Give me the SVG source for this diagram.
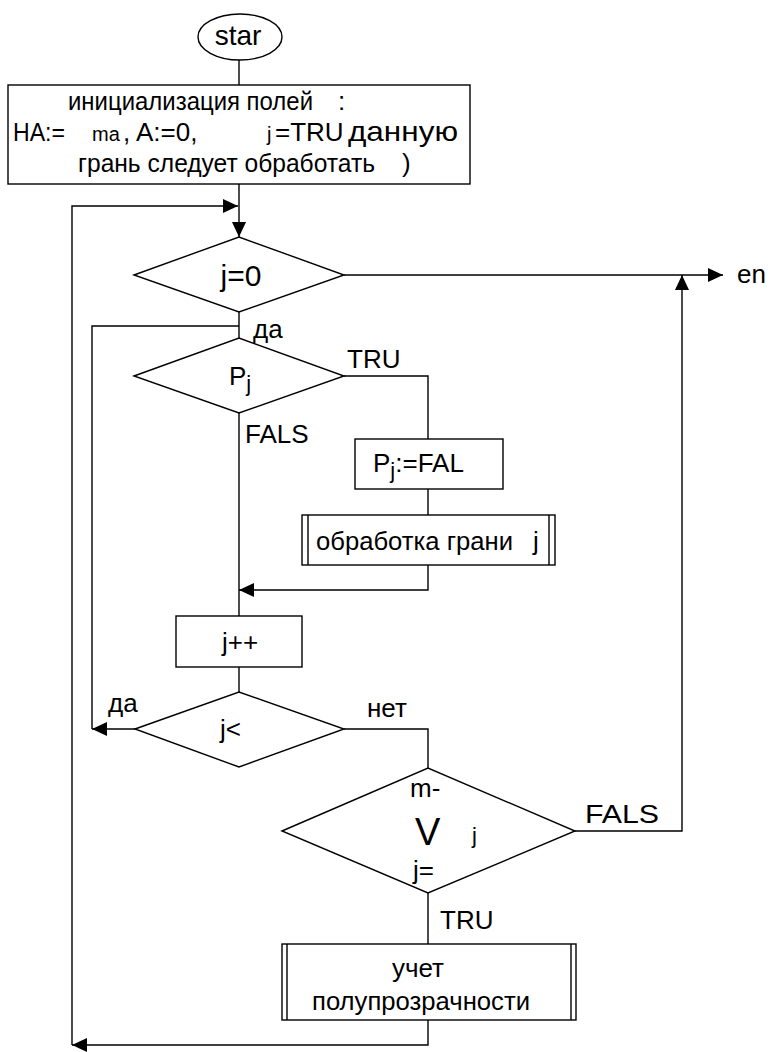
<svg xmlns="http://www.w3.org/2000/svg" width="770" height="1052" viewBox="0 0 770 1052">
<style>
.s{fill:#fff;stroke:#000;stroke-width:1.4}
.c{fill:none;stroke:#000;stroke-width:1.4}
text{font-family:"Liberation Sans",Arial,sans-serif;font-size:26px;fill:#000}
.sm{font-size:20px}
.sub{font-size:22px}
</style>
<defs>
<marker id="ah" markerUnits="userSpaceOnUse" markerWidth="16" markerHeight="16" refX="15" refY="7" orient="auto">
<path d="M0,0 L15,7 L0,14 z" fill="#000"/>
</marker>
</defs>
<rect width="770" height="1052" fill="#fff"/>
<g id="connectors">
<path class="c" d="M239,59 V85"/>
<path class="c" d="M239,184 V237" marker-end="url(#ah)"/>
<path class="c" d="M428,1020 V1045 H72" marker-end="url(#ah)"/>
<path class="c" d="M72,1045 V206 H238" marker-end="url(#ah)"/>
<path class="c" d="M344,275 H723" marker-end="url(#ah)"/>
<path class="c" d="M239,312 V338"/>
<path class="c" d="M92,729 V326 H239"/>
<path class="c" d="M344,376 H428 V439"/>
<path class="c" d="M428,489 V515"/>
<path class="c" d="M428,565 V590 H239" marker-end="url(#ah)"/>
<path class="c" d="M239,413 V616"/>
<path class="c" d="M239,667 V692"/>
<path class="c" d="M135,729 H92" marker-end="url(#ah)"/>
<path class="c" d="M344,729 H428 V768"/>
<path class="c" d="M575,831 H682 V275" marker-end="url(#ah)"/>
<path class="c" d="M428,893 V944"/>
<text x="253" y="338">да</text>
<text x="347" y="368">TRU</text>
<text x="245" y="443">FALS</text>
<text x="108" y="712">да</text>
<text x="367" y="717">нет</text>
<text x="585" y="823" textLength="74" lengthAdjust="spacingAndGlyphs">FALS</text>
<text x="440" y="929">TRU</text>
<text x="737" y="283">en</text>
</g>
<g id="start">
<ellipse class="s" cx="240" cy="37" rx="42" ry="23"/>
<text x="238" y="45" text-anchor="middle" style="font-size:28px">star</text>
</g>
<g id="init">
<rect class="s" x="8" y="85" width="462" height="99"/>
<text x="68" y="110" textLength="245" lengthAdjust="spacingAndGlyphs">инициализация полей</text>
<text x="338" y="110">:</text>
<text x="13" y="141" textLength="52" lengthAdjust="spacingAndGlyphs">HA:=</text>
<text x="92" y="141" class="sm">ma</text>
<text x="123" y="141">, A:=0,</text>
<text x="267" y="141" class="sm">j</text>
<text x="275" y="141">=TRU</text>
<text x="348" y="141" style="font-size:28px" textLength="110" lengthAdjust="spacingAndGlyphs">данную</text>
<text x="78" y="172" textLength="297" lengthAdjust="spacingAndGlyphs">грань следует обработать</text>
<text x="402" y="172">)</text>
</g>
<g id="cond-j0">
<polygon class="s" points="134,275 239,237 344,275 239,312"/>
<text x="241" y="286" text-anchor="middle" style="font-size:30px">j=0</text>
</g>
<g id="cond-pj">
<polygon class="s" points="134,376 239,338 344,376 239,413"/>
<text x="229" y="385">P<tspan dy="6" class="sub">j</tspan></text>
</g>
<g id="set-pj">
<rect class="s" x="355" y="439" width="148" height="50"/>
<text x="373" y="472">P<tspan dy="6" class="sub">j</tspan><tspan dy="-6">:=FAL</tspan></text>
</g>
<g id="process-face">
<rect class="s" x="302" y="515" width="253" height="50"/>
<path class="c" d="M308,515 V565 M549,515 V565"/>
<text x="316" y="550" textLength="197" lengthAdjust="spacingAndGlyphs">обработка грани</text>
<text x="533" y="550">j</text>
</g>
<g id="inc-j">
<rect class="s" x="176" y="616" width="126" height="51"/>
<text x="240" y="651" text-anchor="middle">j++</text>
</g>
<g id="cond-jlt">
<polygon class="s" points="135,729 239,692 344,729 239,767"/>
<text x="220" y="738">j&lt;</text>
</g>
<g id="cond-or">
<polygon class="s" points="282,831 428,768 575,831 428,893"/>
<text x="410" y="797">m-</text>
<text x="415" y="845" style="font-size:38px">V</text>
<text x="472" y="843" class="sub">j</text>
<text x="413" y="879">j=</text>
</g>
<g id="translucency">
<rect class="s" x="282" y="944" width="294" height="76"/>
<path class="c" d="M287,944 V1020 M571,944 V1020"/>
<text x="418" y="977" text-anchor="middle">учет</text>
<text x="312" y="1010" textLength="218" lengthAdjust="spacingAndGlyphs">полупрозрачности</text>
</g>
</svg>
